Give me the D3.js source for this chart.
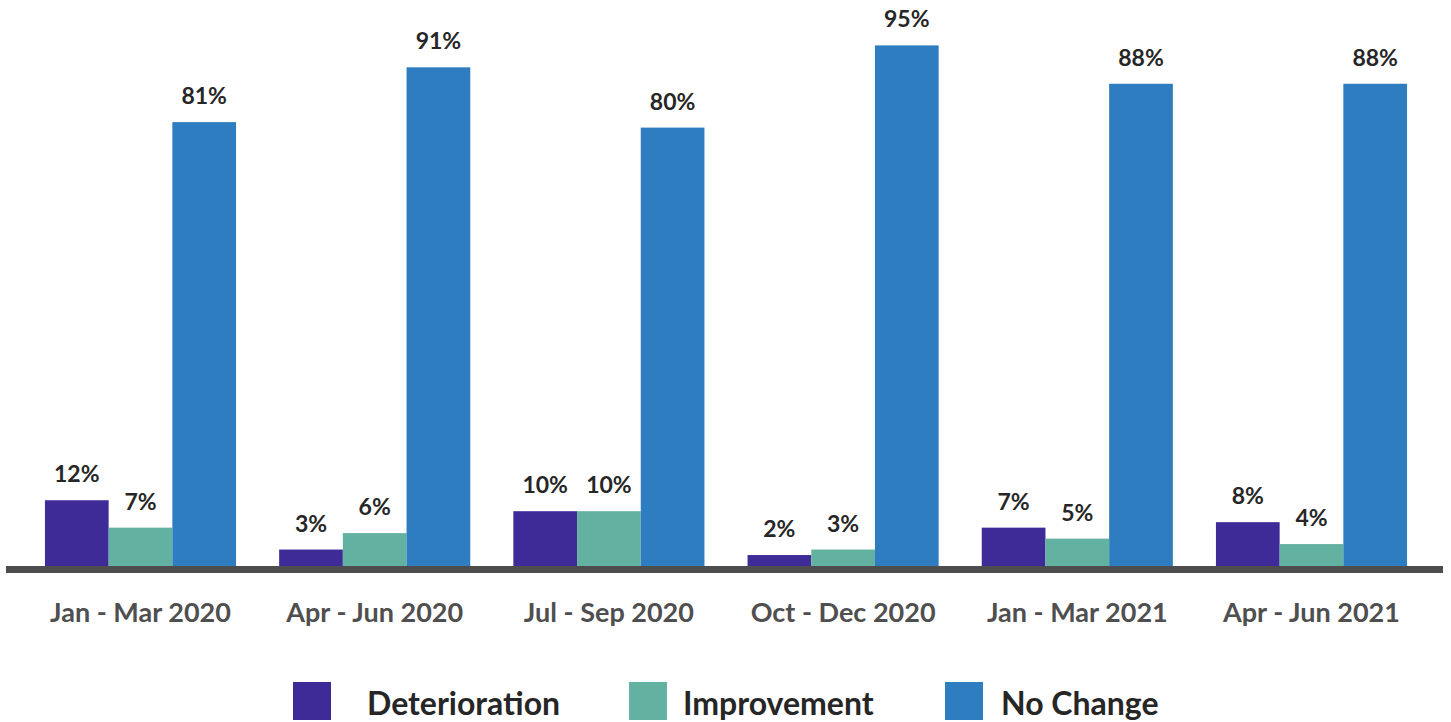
<!DOCTYPE html>
<html>
<head>
<meta charset="utf-8">
<script src="https://cdn.jsdelivr.net/npm/d3@7"></script>
<style>
  html, body { margin: 0; padding: 0; background: #fff; }
  svg { display: block; font-family: Lato, "Open Sans", sans-serif; }
</style>
</head>
<body>
<svg id="chart" width="1451" height="722"></svg>
<script>
// Quarterly share of outcomes (%)
const quarters = ["Jan - Mar 2020", "Apr - Jun 2020", "Jul - Sep 2020", "Oct - Dec 2020", "Jan - Mar 2021", "Apr - Jun 2021"];
const seriesNames = ["Deterioration", "Improvement", "No Change"];
const deterioration = [12, 3, 10, 2, 7, 8];
const improvement = [7, 6, 10, 3, 5, 4];
const noChange = [81, 91, 80, 95, 88, 88];
const seriesColors = ["#3e2b98", "#62b1a1", "#2f7dc1"];

const seriesValues = [deterioration, improvement, noChange];
const rows = quarters.map((q, i) => ({
  quarter: q,
  values: seriesNames.map((s, j) => ({ series: s, value: seriesValues[j][i] }))
}));

const svg = d3.select("#chart");
const baseline = 566;

const x0 = d3.scaleBand()
  .domain(quarters)
  .range([23.4, 1428.6])
  .paddingInner(0.184)
  .paddingOuter(0.092);

const x1 = d3.scaleBand()
  .domain(seriesNames)
  .range([0, x0.bandwidth()])
  .padding(0);

const y = d3.scaleLinear()
  .domain([0, 100])
  .range([baseline, 18]);

const color = d3.scaleOrdinal().domain(seriesNames).range(seriesColors);

// Bars and value labels
const groups = svg.append("g")
  .selectAll("g")
  .data(rows)
  .join("g")
  .attr("transform", d => `translate(${x0(d.quarter)},0)`);

groups.selectAll("rect")
  .data(d => d.values)
  .join("rect")
  .attr("x", d => x1(d.series))
  .attr("y", d => y(d.value))
  .attr("width", x1.bandwidth())
  .attr("height", d => baseline - y(d.value))
  .attr("fill", d => color(d.series));

groups.selectAll("text")
  .data(d => d.values)
  .join("text")
  .attr("x", d => x1(d.series) + x1.bandwidth() / 2)
  .attr("y", d => y(d.value) - 18)
  .attr("text-anchor", "middle")
  .attr("font-size", 23)
  .attr("font-weight", 700)
  .attr("fill", "#262626")
  .text(d => d.value + "%");

// Category axis
const xAxis = d3.axisBottom(x0).tickSize(0).tickPadding(0);
const axisG = svg.append("g")
  .attr("transform", `translate(0,${baseline})`)
  .call(xAxis);
axisG.select(".domain").remove();
axisG.selectAll("text")
  .attr("y", 56)
  .attr("dy", 0)
  .attr("font-size", 27)
  .attr("font-weight", 700)
  .attr("font-family", "Lato, sans-serif")
  .attr("fill", "#4f4f4f");

svg.append("line")
  .attr("x1", 6).attr("x2", 1443)
  .attr("y1", baseline + 3.5).attr("y2", baseline + 3.5)
  .attr("stroke", "#4d4d4d")
  .attr("stroke-width", 7);

// Legend
const legendX = [293, 629, 945];
const legendTextX = [367, 683, 1001];
const legend = svg.append("g")
  .selectAll("g")
  .data(seriesNames)
  .join("g")
  .attr("transform", (d, i) => `translate(${legendX[i]},682)`);

legend.append("rect")
  .attr("width", 38)
  .attr("height", 38)
  .attr("fill", d => color(d));

legend.append("text")
  .attr("x", (d, i) => legendTextX[i] - legendX[i])
  .attr("y", 33)
  .attr("font-size", 32)
  .attr("font-weight", 700)
  .attr("fill", "#262626")
  .text(d => d);
</script>
</body>
</html>
